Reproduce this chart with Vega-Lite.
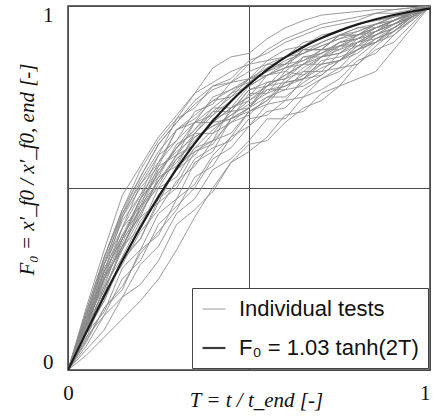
{
  "$schema": "https://vega.github.io/schema/vega-lite/v6.json",
  "autosize": "none",
  "width": 362,
  "height": 364,
  "padding": {"left": 68, "top": 6, "right": 3, "bottom": 47},
  "background": "white",
  "config": {"view": {"stroke": "#3c3c3c", "strokeWidth": 1.5}},
  "datasets": {
    "tests": [
      {"t":0,"s1":0,"s2":0,"s3":0,"s4":0,"s5":0,"s6":0,"s7":0,"s8":0,"s9":0,"s10":0,"s11":0,"s12":0,"s13":0,"s14":0,"s15":0,"s16":0,"s17":0,"s18":0,"s19":0,"s20":0,"s21":0,"s22":0,"s23":0,"s24":0,"s25":0,"s26":0,"s27":0,"s28":0,"s29":0,"s30":0,"s31":0,"s32":0,"s33":0,"s34":0,"s35":0,"s36":0},
      {"t":0.05,"s1":0.04,"s2":0.055,"s3":0.065,"s4":0.09,"s5":0.075,"s6":0.10,"s7":0.085,"s8":0.11,"s9":0.10,"s10":0.12,"s11":0.11,"s12":0.13,"s13":0.12,"s14":0.13,"s15":0.14,"s16":0.12,"s17":0.15,"s18":0.13,"s19":0.15,"s20":0.16,"s21":0.14,"s22":0.17,"s23":0.10,"s24":0.08,"s25":0.11,"s26":0.12,"s27":0.11,"s28":0.15,"s29":0.15,"s30":0.12,"s31":0.14,"s32":0.11,"s33":0.13,"s34":0.16,"s35":0.10,"s36":0.13},
      {"t":0.10,"s1":0.09,"s2":0.11,"s3":0.15,"s4":0.15,"s5":0.17,"s6":0.19,"s7":0.21,"s8":0.21,"s9":0.23,"s10":0.22,"s11":0.26,"s12":0.23,"s13":0.25,"s14":0.27,"s15":0.25,"s16":0.28,"s17":0.29,"s18":0.29,"s19":0.27,"s20":0.31,"s21":0.31,"s22":0.33,"s23":0.16,"s24":0.17,"s25":0.25,"s26":0.27,"s27":0.19,"s28":0.29,"s29":0.30,"s30":0.24,"s31":0.27,"s32":0.22,"s33":0.26,"s34":0.31,"s35":0.20,"s36":0.25},
      {"t":0.15,"s1":0.14,"s2":0.20,"s3":0.20,"s4":0.25,"s5":0.23,"s6":0.30,"s7":0.29,"s8":0.34,"s9":0.31,"s10":0.33,"s11":0.33,"s12":0.36,"s13":0.34,"s14":0.36,"s15":0.39,"s16":0.37,"s17":0.39,"s18":0.41,"s19":0.42,"s20":0.43,"s21":0.44,"s22":0.48,"s23":0.28,"s24":0.22,"s25":0.34,"s26":0.36,"s27":0.31,"s28":0.43,"s29":0.42,"s30":0.35,"s31":0.39,"s32":0.34,"s33":0.37,"s34":0.44,"s35":0.30,"s36":0.36},
      {"t":0.20,"s1":0.19,"s2":0.235,"s3":0.29,"s4":0.30,"s5":0.32,"s6":0.36,"s7":0.38,"s8":0.39,"s9":0.41,"s10":0.42,"s11":0.45,"s12":0.42,"s13":0.44,"s14":0.47,"s15":0.45,"s16":0.44,"s17":0.51,"s18":0.48,"s19":0.50,"s20":0.53,"s21":0.53,"s22":0.56,"s23":0.33,"s24":0.33,"s25":0.43,"s26":0.47,"s27":0.36,"s28":0.51,"s29":0.52,"s30":0.45,"s31":0.48,"s32":0.43,"s33":0.47,"s34":0.55,"s35":0.40,"s36":0.46},
      {"t":0.25,"s1":0.25,"s2":0.30,"s3":0.34,"s4":0.40,"s5":0.38,"s6":0.46,"s7":0.44,"s8":0.50,"s9":0.47,"s10":0.46,"s11":0.50,"s12":0.53,"s13":0.52,"s14":0.53,"s15":0.56,"s16":0.55,"s17":0.57,"s18":0.59,"s19":0.56,"s20":0.62,"s21":0.62,"s22":0.64,"s23":0.43,"s24":0.37,"s25":0.52,"s26":0.54,"s27":0.47,"s28":0.59,"s29":0.60,"s30":0.52,"s31":0.55,"s32":0.51,"s33":0.57,"s34":0.63,"s35":0.48,"s36":0.54},
      {"t":0.30,"s1":0.33,"s2":0.40,"s3":0.43,"s4":0.45,"s5":0.44,"s6":0.50,"s7":0.52,"s8":0.53,"s9":0.55,"s10":0.56,"s11":0.58,"s12":0.56,"s13":0.59,"s14":0.62,"s15":0.59,"s16":0.61,"s17":0.66,"s18":0.63,"s19":0.66,"s20":0.68,"s21":0.68,"s22":0.70,"s23":0.47,"s24":0.47,"s25":0.57,"s26":0.61,"s27":0.51,"s28":0.69,"s29":0.66,"s30":0.58,"s31":0.60,"s32":0.59,"s33":0.63,"s34":0.69,"s35":0.55,"s36":0.61},
      {"t":0.35,"s1":0.42,"s2":0.44,"s3":0.47,"s4":0.50,"s5":0.53,"s6":0.58,"s7":0.56,"s8":0.61,"s9":0.59,"s10":0.60,"s11":0.62,"s12":0.65,"s13":0.62,"s14":0.65,"s15":0.68,"s16":0.66,"s17":0.69,"s18":0.71,"s19":0.68,"s20":0.73,"s21":0.74,"s22":0.76,"s23":0.57,"s24":0.51,"s25":0.64,"s26":0.68,"s27":0.60,"s28":0.72,"s29":0.70,"s30":0.63,"s31":0.64,"s32":0.65,"s33":0.68,"s34":0.76,"s35":0.61,"s36":0.66},
      {"t":0.40,"s1":0.50,"s2":0.49,"s3":0.55,"s4":0.58,"s5":0.56,"s6":0.61,"s7":0.63,"s8":0.63,"s9":0.65,"s10":0.62,"s11":0.69,"s12":0.65,"s13":0.68,"s14":0.71,"s15":0.70,"s16":0.72,"s17":0.74,"s18":0.73,"s19":0.75,"s20":0.77,"s21":0.78,"s22":0.83,"s23":0.60,"s24":0.59,"s25":0.67,"s26":0.68,"s27":0.63,"s28":0.78,"s29":0.74,"s30":0.68,"s31":0.67,"s32":0.70,"s33":0.72,"s34":0.79,"s35":0.66,"s36":0.71},
      {"t":0.45,"s1":0.57,"s2":0.57,"s3":0.58,"s4":0.61,"s5":0.64,"s6":0.63,"s7":0.65,"s8":0.68,"s9":0.68,"s10":0.69,"s11":0.71,"s12":0.71,"s13":0.69,"s14":0.71,"s15":0.76,"s16":0.72,"s17":0.75,"s18":0.79,"s19":0.77,"s20":0.79,"s21":0.80,"s22":0.86,"s23":0.69,"s24":0.64,"s25":0.69,"s26":0.72,"s27":0.72,"s28":0.79,"s29":0.77,"s30":0.72,"s31":0.70,"s32":0.74,"s33":0.76,"s34":0.82,"s35":0.70,"s36":0.75},
      {"t":0.50,"s1":0.62,"s2":0.60,"s3":0.63,"s4":0.67,"s5":0.67,"s6":0.69,"s7":0.71,"s8":0.70,"s9":0.72,"s10":0.71,"s11":0.77,"s12":0.72,"s13":0.76,"s14":0.77,"s15":0.78,"s16":0.78,"s17":0.80,"s18":0.80,"s19":0.79,"s20":0.82,"s21":0.85,"s22":0.87,"s23":0.72,"s24":0.71,"s25":0.72,"s26":0.74,"s27":0.75,"s28":0.84,"s29":0.80,"s30":0.75,"s31":0.73,"s32":0.79,"s33":0.80,"s34":0.84,"s35":0.74,"s36":0.78},
      {"t":0.55,"s1":0.63,"s2":0.64,"s3":0.69,"s4":0.71,"s5":0.73,"s6":0.70,"s7":0.73,"s8":0.75,"s9":0.78,"s10":0.74,"s11":0.78,"s12":0.77,"s13":0.76,"s14":0.79,"s15":0.83,"s16":0.81,"s17":0.81,"s18":0.85,"s19":0.84,"s20":0.84,"s21":0.87,"s22":0.91,"s23":0.79,"s24":0.74,"s25":0.75,"s26":0.77,"s27":0.81,"s28":0.85,"s29":0.83,"s30":0.78,"s31":0.76,"s32":0.82,"s33":0.82,"s34":0.88,"s35":0.78,"s36":0.81},
      {"t":0.60,"s1":0.68,"s2":0.70,"s3":0.69,"s4":0.72,"s5":0.74,"s6":0.74,"s7":0.79,"s8":0.75,"s9":0.79,"s10":0.79,"s11":0.83,"s12":0.77,"s13":0.82,"s14":0.80,"s15":0.84,"s16":0.82,"s17":0.84,"s18":0.86,"s19":0.84,"s20":0.86,"s21":0.90,"s22":0.94,"s23":0.80,"s24":0.80,"s25":0.77,"s26":0.78,"s27":0.83,"s28":0.88,"s29":0.86,"s30":0.81,"s31":0.78,"s32":0.85,"s33":0.84,"s34":0.91,"s35":0.81,"s36":0.83},
      {"t":0.65,"s1":0.72,"s2":0.71,"s3":0.75,"s4":0.77,"s5":0.80,"s6":0.75,"s7":0.80,"s8":0.79,"s9":0.83,"s10":0.80,"s11":0.84,"s12":0.82,"s13":0.81,"s14":0.84,"s15":0.88,"s16":0.86,"s17":0.85,"s18":0.90,"s19":0.88,"s20":0.87,"s21":0.92,"s22":0.96,"s23":0.86,"s24":0.82,"s25":0.78,"s26":0.81,"s27":0.88,"s28":0.89,"s29":0.88,"s30":0.84,"s31":0.80,"s32":0.87,"s33":0.87,"s34":0.93,"s35":0.84,"s36":0.85},
      {"t":0.70,"s1":0.74,"s2":0.76,"s3":0.77,"s4":0.80,"s5":0.81,"s6":0.80,"s7":0.84,"s8":0.82,"s9":0.86,"s10":0.85,"s11":0.88,"s12":0.82,"s13":0.86,"s14":0.84,"s15":0.88,"s16":0.87,"s17":0.88,"s18":0.91,"s19":0.88,"s20":0.90,"s21":0.94,"s22":0.975,"s23":0.86,"s24":0.86,"s25":0.81,"s26":0.84,"s27":0.88,"s28":0.92,"s29":0.90,"s30":0.86,"s31":0.83,"s32":0.89,"s33":0.89,"s34":0.95,"s35":0.87,"s36":0.87},
      {"t":0.75,"s1":0.78,"s2":0.78,"s3":0.80,"s4":0.82,"s5":0.85,"s6":0.83,"s7":0.85,"s8":0.83,"s9":0.87,"s10":0.86,"s11":0.88,"s12":0.87,"s13":0.89,"s14":0.89,"s15":0.92,"s16":0.90,"s17":0.89,"s18":0.93,"s19":0.92,"s20":0.92,"s21":0.95,"s22":0.98,"s23":0.90,"s24":0.87,"s25":0.85,"s26":0.85,"s27":0.92,"s28":0.93,"s29":0.92,"s30":0.88,"s31":0.85,"s32":0.91,"s33":0.91,"s34":0.96,"s35":0.89,"s36":0.90},
      {"t":0.80,"s1":0.80,"s2":0.84,"s3":0.85,"s4":0.86,"s5":0.88,"s6":0.84,"s7":0.89,"s8":0.88,"s9":0.90,"s10":0.88,"s11":0.92,"s12":0.89,"s13":0.89,"s14":0.90,"s15":0.93,"s16":0.91,"s17":0.92,"s18":0.95,"s19":0.92,"s20":0.94,"s21":0.96,"s22":0.985,"s23":0.91,"s24":0.91,"s25":0.87,"s26":0.90,"s27":0.92,"s28":0.95,"s29":0.94,"s30":0.90,"s31":0.88,"s32":0.93,"s33":0.92,"s34":0.97,"s35":0.91,"s36":0.92},
      {"t":0.85,"s1":0.82,"s2":0.88,"s3":0.87,"s4":0.90,"s5":0.90,"s6":0.89,"s7":0.92,"s8":0.90,"s9":0.93,"s10":0.92,"s11":0.94,"s12":0.90,"s13":0.93,"s14":0.92,"s15":0.95,"s16":0.94,"s17":0.93,"s18":0.96,"s19":0.95,"s20":0.94,"s21":0.98,"s22":0.99,"s23":0.94,"s24":0.92,"s25":0.91,"s26":0.91,"s27":0.95,"s28":0.96,"s29":0.95,"s30":0.93,"s31":0.91,"s32":0.95,"s33":0.94,"s34":0.98,"s35":0.93,"s36":0.94},
      {"t":0.90,"s1":0.88,"s2":0.90,"s3":0.92,"s4":0.92,"s5":0.94,"s6":0.93,"s7":0.94,"s8":0.93,"s9":0.95,"s10":0.94,"s11":0.96,"s12":0.94,"s13":0.95,"s14":0.95,"s15":0.96,"s16":0.96,"s17":0.96,"s18":0.97,"s19":0.97,"s20":0.96,"s21":0.98,"s22":0.99,"s23":0.95,"s24":0.95,"s25":0.93,"s26":0.93,"s27":0.96,"s28":0.97,"s29":0.97,"s30":0.95,"s31":0.94,"s32":0.97,"s33":0.96,"s34":0.99,"s35":0.96,"s36":0.96},
      {"t":0.95,"s1":0.94,"s2":0.95,"s3":0.96,"s4":0.965,"s5":0.97,"s6":0.96,"s7":0.975,"s8":0.97,"s9":0.975,"s10":0.97,"s11":0.98,"s12":0.97,"s13":0.97,"s14":0.98,"s15":0.985,"s16":0.98,"s17":0.98,"s18":0.99,"s19":0.98,"s20":0.985,"s21":0.99,"s22":0.995,"s23":0.98,"s24":0.97,"s25":0.97,"s26":0.97,"s27":0.98,"s28":0.99,"s29":0.985,"s30":0.97,"s31":0.97,"s32":0.98,"s33":0.98,"s34":0.995,"s35":0.98,"s36":0.975},
      {"t":1,"s1":1,"s2":1,"s3":1,"s4":1,"s5":1,"s6":1,"s7":1,"s8":1,"s9":1,"s10":1,"s11":1,"s12":1,"s13":1,"s14":1,"s15":1,"s16":1,"s17":1,"s18":1,"s19":1,"s20":1,"s21":1,"s22":1,"s23":1,"s24":1,"s25":1,"s26":1,"s27":1,"s28":1,"s29":1,"s30":1,"s31":1,"s32":1,"s33":1,"s34":1,"s35":1,"s36":1}
    ],
    "fit": [
      {"t":0,"F":0},{"t":0.05,"F":0.1027},{"t":0.10,"F":0.2033},{"t":0.15,"F":0.3000},{"t":0.20,"F":0.3913},
      {"t":0.25,"F":0.4760},{"t":0.30,"F":0.5531},{"t":0.35,"F":0.6225},{"t":0.40,"F":0.6839},{"t":0.45,"F":0.7378},
      {"t":0.50,"F":0.7844},{"t":0.55,"F":0.8245},{"t":0.60,"F":0.8587},{"t":0.65,"F":0.8876},{"t":0.70,"F":0.9120},
      {"t":0.75,"F":0.9323},{"t":0.80,"F":0.9494},{"t":0.85,"F":0.9635},{"t":0.90,"F":0.9752},{"t":0.95,"F":0.9849},
      {"t":1.0,"F":0.9929}
    ]
  },
  "layer": [
    {
      "data": {"name": "tests"},
      "transform": [
        {"fold": ["s1","s2","s3","s4","s5","s6","s7","s8","s9","s10","s11","s12","s13","s14","s15","s16","s17","s18","s19","s20","s21","s22","s23","s24","s25","s26","s27","s28","s29","s30","s31","s32","s33","s34","s35","s36"], "as": ["series", "F"]}
      ],
      "mark": {"type": "line", "opacity": 0.85, "clip": true},
      "encoding": {
        "x": {
          "field": "t", "type": "quantitative",
          "scale": {"domain": [0, 1], "nice": false, "zero": false},
          "axis": {
            "values": [0, 0.5, 1],
            "labelExpr": "datum.value == 0.5 ? '' : (datum.value == 0 ? '0' : '1')",
            "labelAlign": {"condition": {"test": "datum.value == 1", "value": "right"}, "value": "center"},
            "grid": true, "gridColor": "#4a4a4a", "gridWidth": 1,
            "ticks": false, "domain": false,
            "labelFlush": false, "labelOverlap": false, "labelBound": false,
            "labelFont": "Liberation Serif", "labelFontSize": 21, "labelColor": "#111", "labelPadding": 12,
            "title": "T = t / t_end [-]",
            "titleFont": "Liberation Serif", "titleFontStyle": "italic", "titleFontWeight": "normal",
            "titleFontSize": 21, "titleColor": "#111",
            "titleX": 188, "titleY": 36, "titleBaseline": "alphabetic", "titleAlign": "center"
          }
        },
        "y": {
          "field": "F", "type": "quantitative",
          "scale": {"domain": [0, 1], "nice": false, "zero": false},
          "axis": {
            "values": [0, 0.5, 1],
            "labelExpr": "datum.value == 0.5 ? '' : (datum.value == 0 ? '0' : '1')",
            "grid": true, "gridColor": "#4a4a4a", "gridWidth": 1,
            "ticks": false, "domain": false,
            "labelFlush": true, "labelFlushOffset": 2, "labelOverlap": false,
            "labelFont": "Liberation Serif", "labelFontSize": 21, "labelColor": "#111", "labelPadding": 15,
            "title": "F₀ = x′_f0 / x′_f0, end [-]",
            "titleFont": "Liberation Serif", "titleFontStyle": "italic", "titleFontWeight": "normal",
            "titleFontSize": 21, "titleColor": "#111",
            "titleAngle": -90, "titleX": -35, "titleY": 163, "titleBaseline": "alphabetic", "titleAlign": "center"
          }
        },
        "detail": {"field": "series", "type": "nominal"},
        "color": {
          "datum": "Individual tests", "type": "nominal",
          "scale": {"domain": ["Individual tests", "F₀ = 1.03 tanh(2T)"], "range": ["#8a8a8a", "#1c1c1c"]},
          "legend": {
            "title": null, "orient": "bottom-right", "offset": 2,
            "symbolType": "stroke", "symbolSize": 529,
            "labelFont": "Liberation Sans", "labelFontSize": 22, "labelColor": "#111", "labelLimit": 400,
            "labelOffset": 12, "rowPadding": 15, "padding": 9,
            "strokeColor": "#444", "fillColor": "white", "cornerRadius": 0
          }
        },
        "strokeWidth": {
          "datum": "Individual tests", "type": "ordinal",
          "scale": {"domain": ["Individual tests", "F₀ = 1.03 tanh(2T)"], "range": [1, 2.2]},
          "legend": null
        }
      }
    },
    {
      "data": {"name": "fit"},
      "mark": {"type": "line", "interpolate": "monotone", "clip": true},
      "encoding": {
        "x": {"field": "t", "type": "quantitative"},
        "y": {"field": "F", "type": "quantitative"},
        "color": {"datum": "F₀ = 1.03 tanh(2T)", "type": "nominal"},
        "strokeWidth": {"datum": "F₀ = 1.03 tanh(2T)", "type": "ordinal"}
      }
    }
  ]
}
